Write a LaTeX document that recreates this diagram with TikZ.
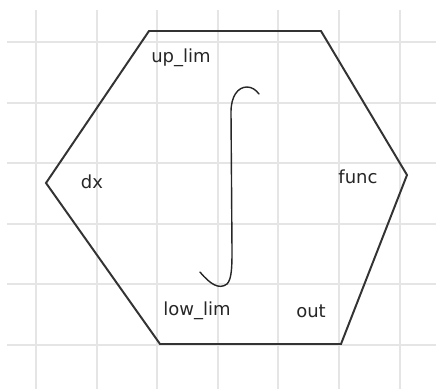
\documentclass[tikz,border=0pt]{standalone}
\usepackage{fontspec}
\setmainfont{DejaVu Sans}
\usepackage{tikz}
\usetikzlibrary{positioning,calc}
\tikzset{
  gridln/.style={draw=gray!20,line width=1.3pt},
  hexln/.style={draw=black!80,line width=1.4pt,line join=miter},
  lbl/.style={inner sep=0pt,font=\fontsize{12.8}{15}\selectfont,text=black!85},
  intg/.style={draw=black!85,line width=1pt,line cap=round},
}

\begin{document}
\begin{tikzpicture}[x=0.025cm,y=-0.025cm]
  \useasboundingbox (0,0) rectangle (436,389);
  \foreach \i in {0,...,6} \draw[gridln] ({36+60.6*\i},10) -- ++(0,379);
  \foreach \j in {0,...,5} \draw[gridln] (7,{42+60.6*\j}) -- (436,{42+60.6*\j});
  \coordinate (tl) at (149,31);  \coordinate (tr) at (321,31);
  \coordinate (rt) at (407,175); \coordinate (br) at (341,344);
  \coordinate (bl) at (160,344); \coordinate (lf) at (46,183);
  \draw[hexln,fill=white,fill opacity=0] (tl) -- (tr) -- (rt) -- (br) -- (bl) -- (lf) -- cycle;
  \draw[intg] (200,272) .. controls (210,284) and (219,290) .. (227,284)
     .. controls (232,279) and (232,265) .. (232,250) -- (231,112)
     .. controls (231,96) and (238,87) .. (247,87)
     .. controls (252,87) and (256,90) .. (259,94);
  \node[lbl] (uplim) at (181,58) {up\_lim};
  \node[lbl] (dx) at (92,182) {dx};
  \node[lbl] (func) at (358,177) {func};
  \node[lbl] (lowlim) at (197,311) {low\_lim};
  \node[lbl] (out) at (311,311) {out};
\end{tikzpicture}
\end{document}
